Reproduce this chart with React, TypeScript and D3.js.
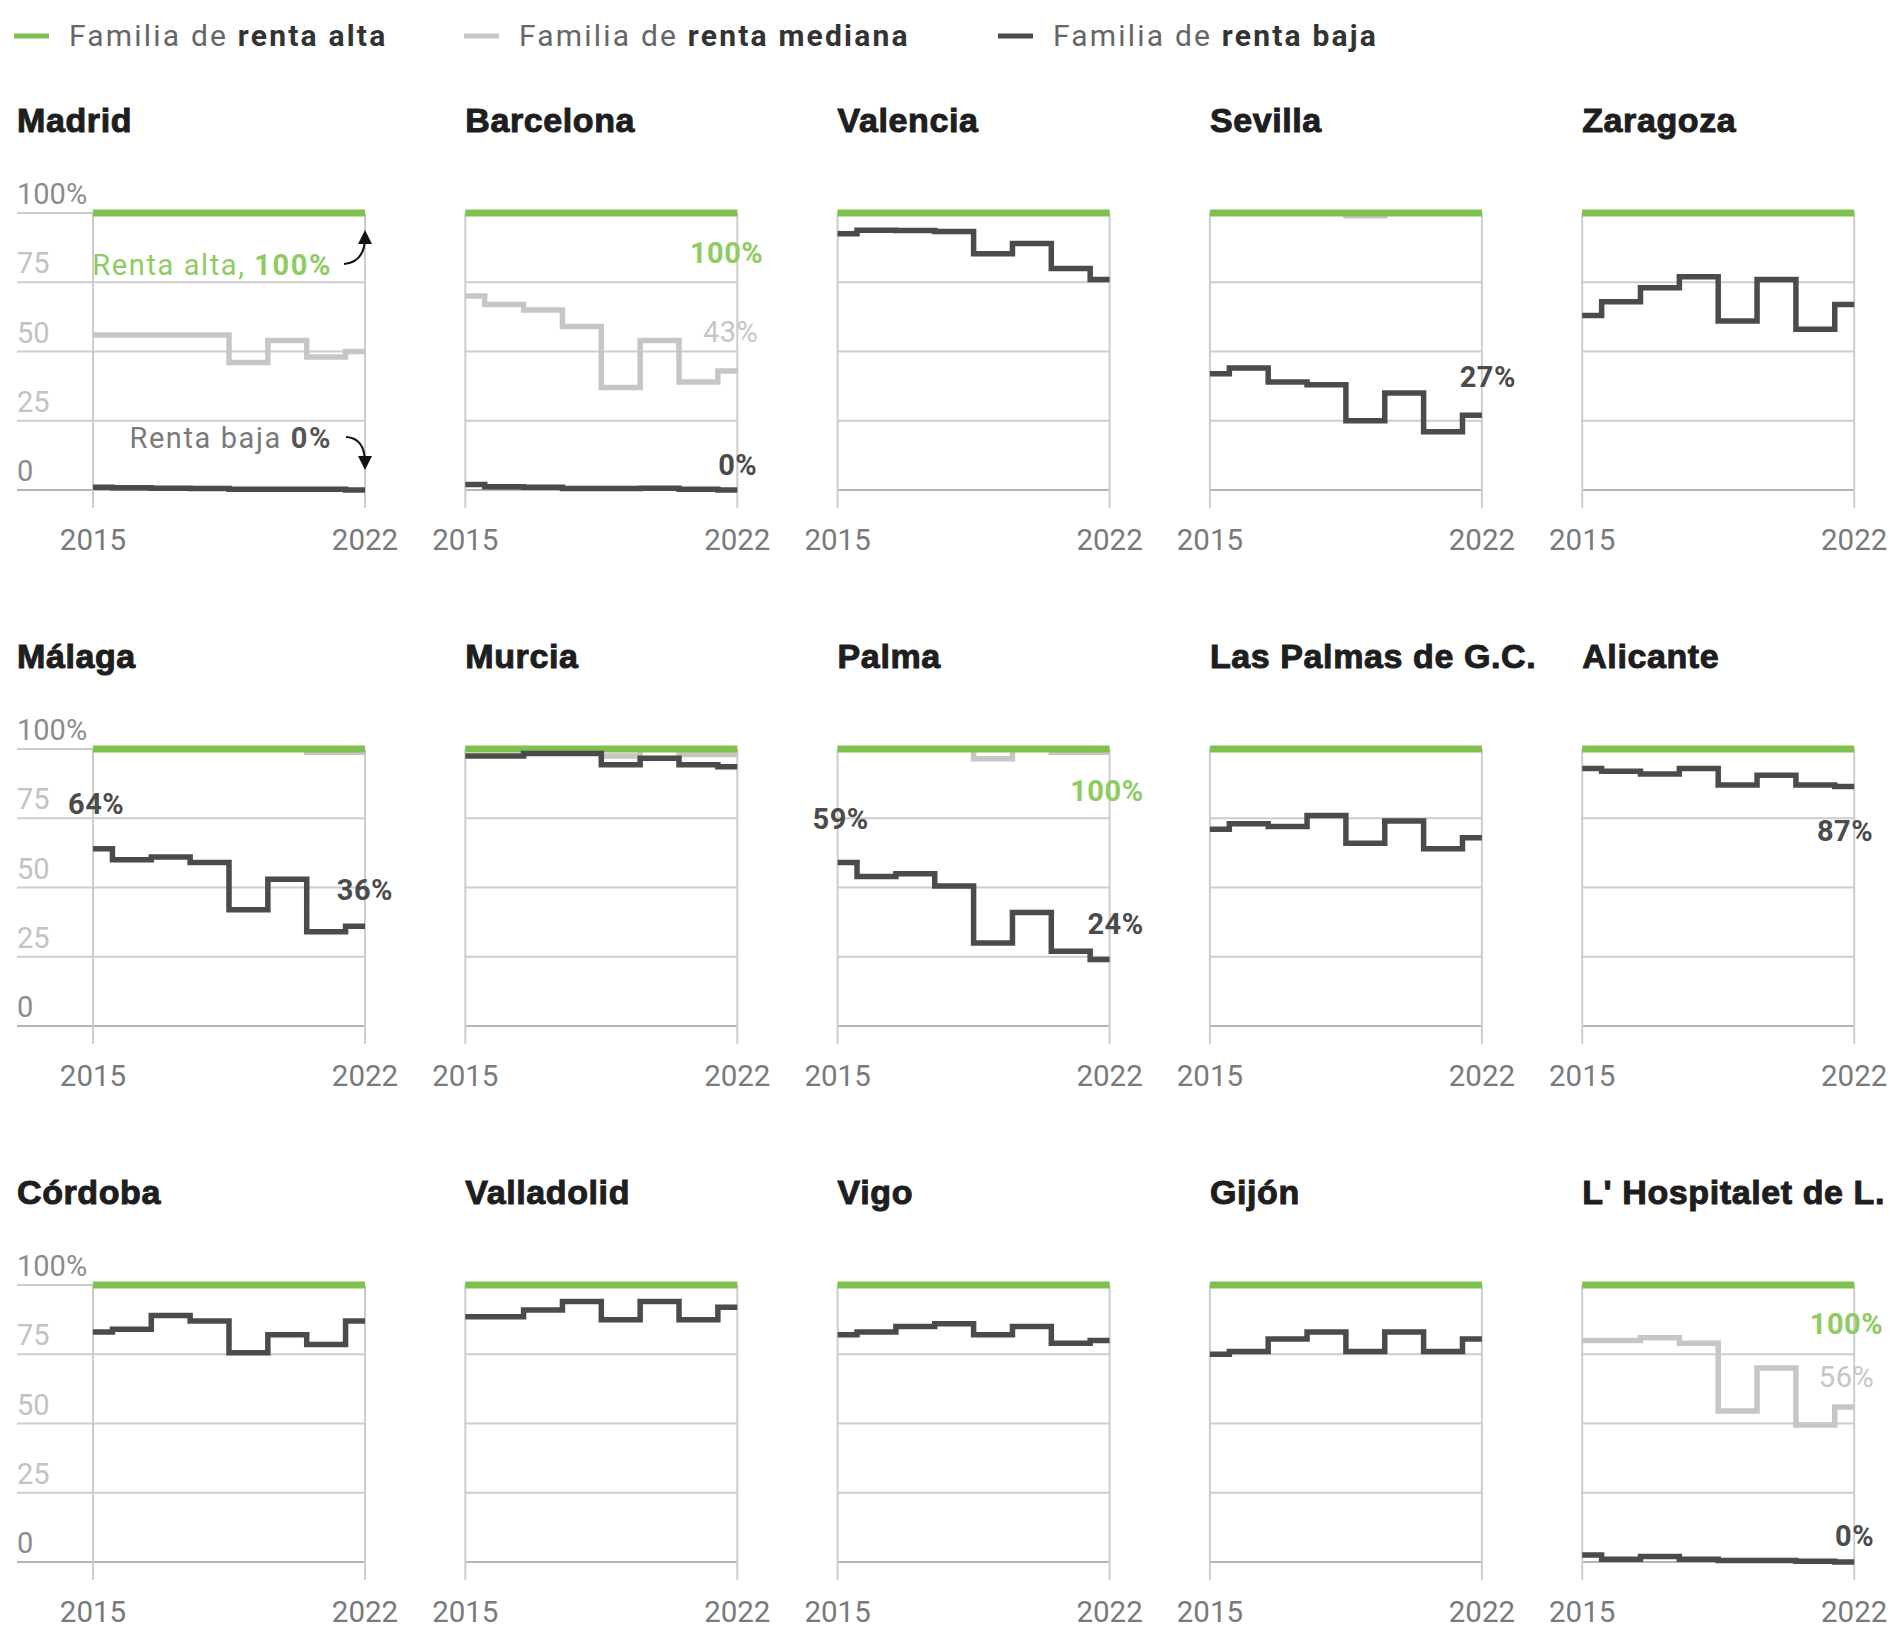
import React from 'react';
import * as d3 from 'd3';

// ---------- DATA ----------
const YEARS = [2015, 2016, 2017, 2018, 2019, 2020, 2021, 2022];

const CITIES = [
  'Madrid', 'Barcelona', 'Valencia', 'Sevilla', 'Zaragoza',
  'Málaga', 'Murcia', 'Palma', 'Las Palmas de G.C.', 'Alicante',
  'Córdoba', 'Valladolid', 'Vigo', 'Gijón', "L' Hospitalet de L.",
];

// Familia de renta alta (%)
const ALTA: number[][] = [
  [100, 100, 100, 100, 100, 100, 100, 100],
  [100, 100, 100, 100, 100, 100, 100, 100],
  [100, 100, 100, 100, 100, 100, 100, 100],
  [100, 100, 100, 100, 100, 100, 100, 100],
  [100, 100, 100, 100, 100, 100, 100, 100],
  [100, 100, 100, 100, 100, 100, 100, 100],
  [100, 100, 100, 100, 100, 100, 100, 100],
  [100, 100, 100, 100, 100, 100, 100, 100],
  [100, 100, 100, 100, 100, 100, 100, 100],
  [100, 100, 100, 100, 100, 100, 100, 100],
  [100, 100, 100, 100, 100, 100, 100, 100],
  [100, 100, 100, 100, 100, 100, 100, 100],
  [100, 100, 100, 100, 100, 100, 100, 100],
  [100, 100, 100, 100, 100, 100, 100, 100],
  [100, 100, 100, 100, 100, 100, 100, 100],
];

// Familia de renta mediana (%)
const MEDIANA: number[][] = [
  [56, 56, 56, 56, 46, 54, 48, 50],
  [70, 67, 65, 59, 37, 54, 39, 43],
  [100, 100, 100, 100, 100, 100, 100, 100],
  [100, 100, 100, 100, 99, 100, 100, 100],
  [100, 100, 100, 100, 100, 100, 100, 100],
  [100, 100, 100, 100, 100, 100, 98.8, 98.8],
  [100, 100, 100, 100, 97.5, 100, 98, 98],
  [100, 100, 100, 100, 96.5, 100, 98.8, 98.8],
  [100, 100, 100, 100, 100, 100, 100, 100],
  [100, 100, 100, 100, 100, 100, 100, 100],
  [100, 100, 100, 100, 100, 100, 100, 100],
  [100, 100, 100, 100, 100, 100, 100, 100],
  [100, 100, 100, 100, 100, 100, 100, 100],
  [100, 100, 100, 100, 100, 100, 100, 100],
  [80, 80, 81, 79, 54.5, 70, 49.5, 56],
];

// Familia de renta baja (%)
const BAJA: number[][] = [
  [1, 0.8, 0.6, 0.5, 0.3, 0.3, 0.3, 0],
  [2, 1.2, 1, 0.5, 0.5, 0.6, 0.3, 0],
  [92.5, 93.8, 93.7, 93.3, 85.3, 89, 80, 76],
  [42, 44, 39, 38, 25, 35, 21, 27],
  [63, 68, 73, 77, 61, 76, 58, 67],
  [64, 60, 61, 59, 42, 53, 34, 36],
  [97.5, 97.5, 98.4, 98.4, 94.3, 96.7, 94.3, 93.6],
  [59, 54, 55, 50.5, 30, 41, 27, 24],
  [71, 73, 72, 76, 66, 74, 64, 68],
  [93, 92, 91, 93, 87, 90.5, 87, 86.5],
  [83, 84, 89, 87, 75.5, 82, 78.5, 87],
  [88.5, 88.5, 91, 94, 87.5, 94, 87.5, 92],
  [82, 83, 85, 86, 82, 85, 79, 80],
  [75, 76, 80.5, 83, 76, 83, 76, 80.5],
  [2.5, 1, 2, 1, 0.5, 0.5, 0.3, 0],
];

const Y_TICKS = [0, 25, 50, 75, 100];
const Y_TICK_LABELS = ['0', '25', '50', '75', '100%'];

const LEGEND_LABELS = ['renta alta', 'renta mediana', 'renta baja'];

// value labels: city index, series, year index, text
const VALUE_LABELS = [
  { city: 1, series: 'alta', year: 7, text: '100%' },
  { city: 1, series: 'mediana', year: 7, text: '43%' },
  { city: 1, series: 'baja', year: 7, text: '0%' },
  { city: 3, series: 'baja', year: 7, text: '27%' },
  { city: 5, series: 'baja', year: 0, text: '64%' },
  { city: 5, series: 'baja', year: 7, text: '36%' },
  { city: 7, series: 'alta', year: 7, text: '100%' },
  { city: 7, series: 'baja', year: 0, text: '59%' },
  { city: 7, series: 'baja', year: 7, text: '24%' },
  { city: 9, series: 'baja', year: 7, text: '87%' },
  { city: 14, series: 'alta', year: 7, text: '100%' },
  { city: 14, series: 'mediana', year: 7, text: '56%' },
  { city: 14, series: 'baja', year: 7, text: '0%' },
];
// label offsets (layout, not data)
const LABEL_OFFSETS: [number, number, string][] = [
  [26, 50, 'end'], [21, -29, 'end'], [20, -15, 'end'],
  [34, -28, 'end'],
  [-25, -35, 'start'], [28, -26, 'end'],
  [34, 52, 'end'], [-25, -34, 'start'], [34, -26, 'end'],
  [19, 55, 'end'],
  [29, 49, 'end'], [20, -20, 'end'], [20, -16, 'end'],
];

// ---------- STYLE ----------
const W = 1890, H = 1630;
const GREEN = '#7fc04f';
const GREEN_TEXT = '#8fca63';
const MID = '#c6c6c6';
const LOW = '#4b4b4b';
const GRID = '#cdcdcd';
const FONT = 'Roboto, "Noto Sans", sans-serif';
const TITLE_FONT = '"Liberation Sans", Arial, sans-serif';

const COL_LEFT0 = 93, COL_STEP = 372.3, PLOT_W = 272;
const ROW_TOP0 = 213, ROW_STEP = 536, PLOT_H = 277;
const AXIS_LEFT = 17;

function seriesOf(name: string, i: number) {
  return name === 'alta' ? ALTA[i] : name === 'mediana' ? MEDIANA[i] : BAJA[i];
}
function colorOf(name: string) {
  return name === 'alta' ? GREEN_TEXT : name === 'mediana' ? MID : LOW;
}

function geometry(i: number) {
  const col = i % 5, row = Math.floor(i / 5);
  const left = COL_LEFT0 + col * COL_STEP;
  const top = ROW_TOP0 + row * ROW_STEP;
  const x = d3.scaleLinear().domain([2015, 2022]).range([left, left + PLOT_W]);
  const y = d3.scaleLinear().domain([0, 100]).range([top + PLOT_H, top]);
  return { col, row, left, top, x, y };
}

function Panel({ i }: { i: number }) {
  const { col, left, top, x, y } = geometry(i);
  const line = d3
    .line<number>()
    .x((_, j) => x(YEARS[j]))
    .y((d) => y(d))
    .curve(d3.curveStep);
  const gx1 = col === 0 ? AXIS_LEFT : left;
  return (
    <g>
      <text
        x={col === 0 ? AXIS_LEFT : left}
        y={top - 81}
        fontFamily={TITLE_FONT}
        fontWeight={700}
        fontSize={34}
        letterSpacing={0.6}
        fill="#1e1e1e"
        stroke="#1e1e1e"
        strokeWidth={1}
      >
        {CITIES[i]}
      </text>
      {Y_TICKS.map((t) => (
        <line
          key={t}
          x1={gx1}
          x2={x(2022)}
          y1={y(t)}
          y2={y(t)}
          stroke={t === 0 ? '#b5b5b5' : GRID}
          strokeWidth={2}
        />
      ))}
      {[2015, 2022].map((yr) => (
        <line
          key={yr}
          x1={x(yr)}
          x2={x(yr)}
          y1={y(100)}
          y2={y(0) + 18}
          stroke={GRID}
          strokeWidth={2}
        />
      ))}
      {col === 0 &&
        Y_TICKS.map((t, k) => (
          <text
            key={t}
            x={AXIS_LEFT}
            y={y(t) - 9}
            fontFamily={FONT}
            fontSize={29}
            fill={t === 0 || t === 100 ? '#8c8c8c' : '#c2c2c2'}
          >
            {Y_TICK_LABELS[k]}
          </text>
        ))}
      {[2015, 2022].map((yr) => (
        <text
          key={yr}
          x={x(yr)}
          y={y(0) + 60}
          textAnchor="middle"
          fontFamily={FONT}
          fontSize={29.5}
          fill="#7a7a7a"
        >
          {yr}
        </text>
      ))}
      <path d={line(MEDIANA[i]) || ''} fill="none" stroke={MID} strokeWidth={5.5} />
      <path d={line(ALTA[i]) || ''} fill="none" stroke={GREEN} strokeWidth={7} />
      <path d={line(BAJA[i]) || ''} fill="none" stroke={LOW} strokeWidth={5.5} />
    </g>
  );
}

function ValueLabels() {
  return (
    <g>
      {VALUE_LABELS.map((l, k) => {
        const { x, y } = geometry(l.city);
        const v = seriesOf(l.series, l.city)[l.year];
        const [dx, dy, anchor] = LABEL_OFFSETS[k];
        return (
          <text
            key={k}
            x={x(YEARS[l.year]) + dx}
            y={y(v) + dy}
            textAnchor={anchor as any}
            fontFamily={FONT}
            fontSize={29}
            letterSpacing={0.5}
            fontWeight={l.series === 'mediana' ? 400 : 700}
            fill={colorOf(l.series)}
          >
            {l.text}
          </text>
        );
      })}
    </g>
  );
}

function MadridNotes() {
  const { x, y } = geometry(0);
  const xe = x(2022);
  const yA = y(ALTA[0][7]);
  const yB = y(BAJA[0][7]);
  return (
    <g>
      <defs>
        <marker id="ah" viewBox="0 0 10 10" refX="5" refY="5" markerWidth="7" markerHeight="7" orient="auto">
          <path d="M0,0 L10,5 L0,10 z" fill="#111" />
        </marker>
      </defs>
      <text x={xe - 33} y={yA + 62} textAnchor="end" fontFamily={FONT} fontSize={29} letterSpacing={1.6} fill={GREEN_TEXT}>
        Renta alta, <tspan fontWeight={700}>100%</tspan>
      </text>
      <path
        d={`M${xe - 21},${yA + 51} Q${xe},${yA + 49} ${xe},${yA + 24}`}
        fill="none"
        stroke="#111"
        strokeWidth={2}
        markerEnd="url(#ah)"
      />
      <text x={xe - 33} y={yB - 42} textAnchor="end" fontFamily={FONT} fontSize={29} letterSpacing={1.6} fill="#7a7a7a">
        Renta baja <tspan fontWeight={700} fill="#555">0%</tspan>
      </text>
      <path
        d={`M${xe - 19},${yB - 53} Q${xe},${yB - 52} ${xe},${yB - 27}`}
        fill="none"
        stroke="#111"
        strokeWidth={2}
        markerEnd="url(#ah)"
      />
    </g>
  );
}

function Legend() {
  const xs = [14, 464, 998];
  const cols = [GREEN, MID, LOW];
  return (
    <g>
      {LEGEND_LABELS.map((lab, k) => (
        <g key={k}>
          <line x1={xs[k]} x2={xs[k] + 35} y1={36} y2={36} stroke={cols[k]} strokeWidth={5} />
          <text x={xs[k] + 55} y={46} fontFamily={FONT} fontSize={30} letterSpacing={2.2} fill="#666">
            Familia de <tspan fontWeight={700} fill="#333">{lab}</tspan>
          </text>
        </g>
      ))}
    </g>
  );
}

export default function App() {
  return (
    <svg
      width={W}
      height={H}
      viewBox={`0 0 ${W} ${H}`}
      style={{ position: 'absolute', left: 0, top: 0, background: '#fff' }}
    >
      <rect width={W} height={H} fill="#fff" />
      <Legend />
      {CITIES.map((_, i) => (
        <Panel key={i} i={i} />
      ))}
      <ValueLabels />
      <MadridNotes />
    </svg>
  );
}
